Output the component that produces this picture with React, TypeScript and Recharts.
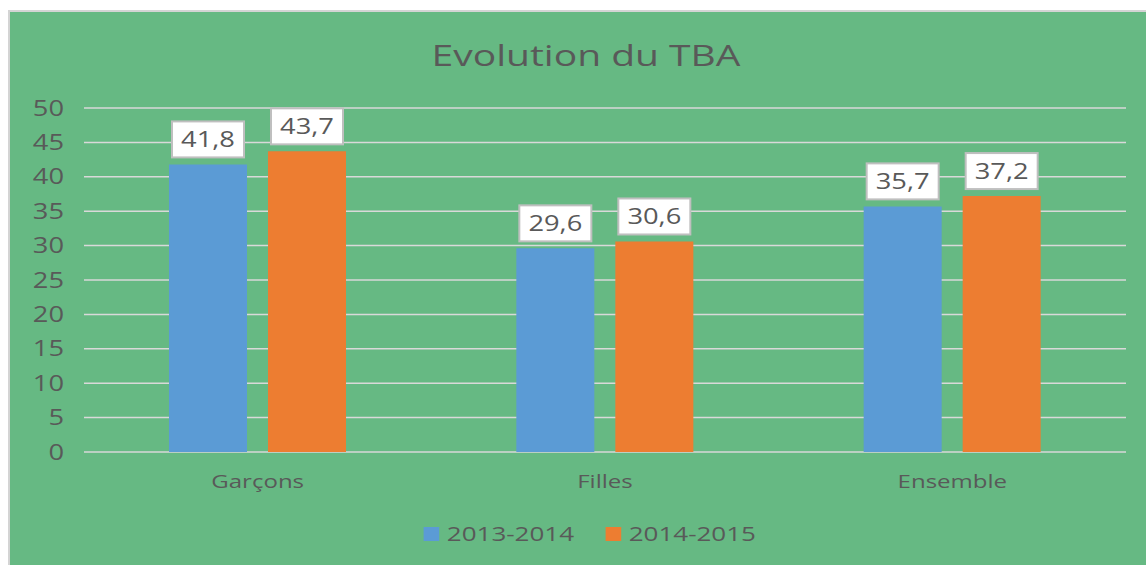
import React from "react";
import { Bar, BarChart, CartesianGrid, LabelList, Legend, XAxis, YAxis } from "recharts";

const categories = ["Garçons", "Filles", "Ensemble"];
const serie2013 = [41.8, 29.6, 35.7];
const serie2014 = [43.7, 30.6, 37.2];
const yTicks = [0, 5, 10, 15, 20, 25, 30, 35, 40, 45, 50];

const data = categories.map((cat, i) => ({ cat, a: serie2013[i], b: serie2014[i] }));

const TEXT = "#595959";
const FONT = "'Open Sans', 'Noto Sans', sans-serif";
const SX = 1.3; // le graphique d'origine est étiré horizontalement

const YTick = (props: any) => {
  const { x, y, payload } = props;
  return (
    <g transform={`translate(${x},${y})`}>
      <text transform={`scale(${SX},1)`} textAnchor="end" dy="0.36em" fill={TEXT} fontSize={21} fontFamily={FONT}>
        {payload.value}
      </text>
    </g>
  );
};

const XTick = (props: any) => {
  const { x, y, payload } = props;
  return (
    <g transform={`translate(${x},${y})`}>
      <text transform={`scale(${SX},1)`} textAnchor="middle" dy="0.71em" fill={TEXT} fontSize={18.5} fontFamily={FONT}>
        {payload.value}
      </text>
    </g>
  );
};

// étiquette blanche encadrée au-dessus de chaque barre
const BoxLabel = (props: any) => {
  const { x, y, width, value } = props;
  const w = 72;
  const h = 36;
  const cx = x + width / 2;
  const top = y - 7 - h;
  return (
    <g>
      <rect x={cx - w / 2} y={top} width={w} height={h} fill="#ffffff" stroke="#bfbfbf" strokeWidth={2} />
      <g transform={`translate(${cx},${top + h / 2 + 7.5})`}>
        <text transform={`scale(${SX},1)`} textAnchor="middle" fill={TEXT} fontSize={21} fontFamily={FONT}>
          {String(value).replace(".", ",")}
        </text>
      </g>
    </g>
  );
};

const legendItems = [
  { label: "2013-2014", color: "#5b9bd5" },
  { label: "2014-2015", color: "#ed7d31" },
];

const LegendContent = () => (
  <div
    style={{
      display: "flex",
      justifyContent: "center",
      gap: 24.5,
      fontFamily: FONT,
      fontSize: 20,
      color: TEXT,
      paddingTop: 8,
      transform: `translateX(22px) scaleX(${SX})`,
    }}
  >
    {legendItems.map((it) => (
      <div key={it.label} style={{ display: "flex", alignItems: "center", gap: 6 }}>
        <span style={{ width: 11.5, height: 14, background: it.color, display: "inline-block" }} />
        <span>{it.label}</span>
      </div>
    ))}
  </div>
);

export default function App() {
  return (
    <>
      <style>{`body{margin:0;overflow:hidden}`}</style>
      <div
        style={{
          position: "absolute",
          left: 8,
          top: 10,
          width: 1140,
          height: 557,
          borderTop: "2px solid #d4d4d4",
          borderLeft: "2px solid #d4d4d4",
          background: "#66b983",
        }}
      >
        <div
          style={{
            position: "absolute",
            left: 0,
            right: 0,
            top: 22,
            textAlign: "center",
            fontFamily: FONT,
            fontSize: 30,
            color: TEXT,
            transform: `translateX(6px) scaleX(${SX})`,
          }}
        >
          Evolution du TBA
        </div>
        <BarChart
          width={1136}
          height={553}
          data={data}
          margin={{ top: 96, right: 20, left: 0, bottom: 0 }}
          barSize={78}
          barGap={21}
        >
          <CartesianGrid stroke="#d9d9d9" strokeWidth={1.5} vertical={false} />
          <XAxis dataKey="cat" axisLine={false} tickLine={false} tickMargin={17} height={60} tick={XTick} />
          <YAxis
            width={74}
            domain={[0, 50]}
            ticks={yTicks}
            axisLine={false}
            tickLine={false}
            tickMargin={14}
            tick={YTick}
          />
          <Legend verticalAlign="bottom" height={53} content={LegendContent} />
          <Bar dataKey="a" name="2013-2014" fill="#5b9bd5" isAnimationActive={false}>
            <LabelList dataKey="a" content={BoxLabel} />
          </Bar>
          <Bar dataKey="b" name="2014-2015" fill="#ed7d31" isAnimationActive={false}>
            <LabelList dataKey="b" content={BoxLabel} />
          </Bar>
        </BarChart>
      </div>
    </>
  );
}
